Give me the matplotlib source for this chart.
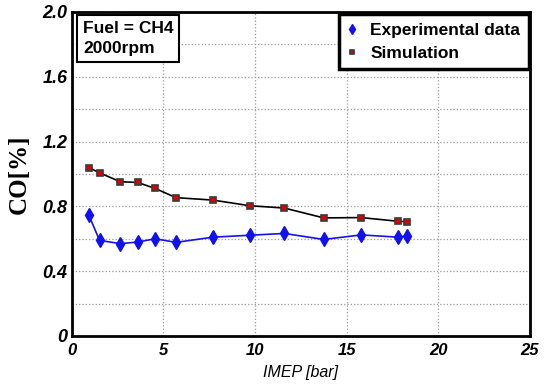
import numpy as np
import matplotlib.pyplot as plt

# IMEP [bar] and CO [%]
imep = [0.95, 1.53, 2.67, 3.6, 4.56, 5.7, 7.71, 9.73, 11.6, 13.75, 15.8, 17.82, 18.3]
co_exp = [0.745, 0.59, 0.57, 0.58, 0.60, 0.578, 0.61, 0.622, 0.633, 0.596, 0.624, 0.61, 0.618]
co_sim = [1.04, 1.007, 0.952, 0.948, 0.911, 0.854, 0.839, 0.804, 0.79, 0.729, 0.731, 0.708, 0.706]

xticks = [0, 5, 10, 15, 20, 25]
yticks = [0, 0.4, 0.8, 1.2, 1.6, 2.0]
yticklabels = ["0", "0.4", "0.8", "1.2", "1.6", "2.0"]

W, H = 545, 386
fig = plt.figure(figsize=(W / 100, H / 100), dpi=100)
ax = fig.add_axes([71.5 / W, 1 - 336 / H, 458.5 / W, 324 / H])

ax.plot(imep, co_exp, color="#1414e6", lw=1.2, marker="d", ms=7.5,
        mfc="#1010f0", mec="#1010f0", label="Experimental data", zorder=3)
ax.plot(imep, co_sim, color="black", lw=1.2, marker="s", ms=5,
        mfc="#e00000", mec="#3a3a3a", mew=1.2, label="Simulation", zorder=3)

ax.set_xlim(0, 25)
ax.set_ylim(0, 2.0)
ax.set_xticks(xticks)
ax.set_yticks(yticks)
ax.set_yticks(np.arange(0.2, 2.0, 0.4), minor=True)
ax.set_yticklabels(yticklabels)
ax.tick_params(which="both", length=0)
ax.tick_params(axis="x", pad=5)
ax.tick_params(axis="y", pad=3)
for lab in ax.get_xticklabels():
    lab.set_fontfamily("Liberation Sans")
    lab.set_fontweight("bold")
    lab.set_fontstyle("italic")
    lab.set_fontsize(12)
for lab in ax.get_yticklabels():
    lab.set_fontfamily("Liberation Sans")
    lab.set_fontweight("bold")
    lab.set_fontstyle("italic")
    lab.set_fontsize(13)
ax.grid(which="both", color="#9a9a9a", ls=":", lw=0.9)
for s in ax.spines.values():
    s.set_linewidth(2)

ax.set_xlabel("IMEP [bar]", fontfamily="Liberation Sans", fontstyle="italic",
              fontsize=11.5, labelpad=5)
ax.set_ylabel("CO[%]", fontfamily="Liberation Serif", fontweight="bold",
              fontsize=18, labelpad=8)

fig.text(83 / W, 1 - 21 / H, "Fuel = CH4\n2000rpm", ha="left", va="top",
         fontfamily="Liberation Sans", fontweight="bold", fontsize=12.5,
         linespacing=1.45,
         bbox=dict(boxstyle="square,pad=0.32", fc="white", ec="black", lw=1.5))

leg = ax.legend(loc="upper right", bbox_to_anchor=(529 / W, 1 - 14 / H),
                bbox_transform=fig.transFigure, numpoints=1,
                handlelength=0.5, handletextpad=0.8, borderpad=0.5,
                borderaxespad=0, labelspacing=0.45, fancybox=False,
                framealpha=1, markerscale=0.7,
                prop=dict(family="Liberation Sans", weight="bold", size=12.5))
leg.get_frame().set_edgecolor("black")
leg.get_frame().set_linewidth(2.5)
for h in leg.legend_handles:
    h.set_linestyle("none")

fig.savefig("out.png", dpi=100)
